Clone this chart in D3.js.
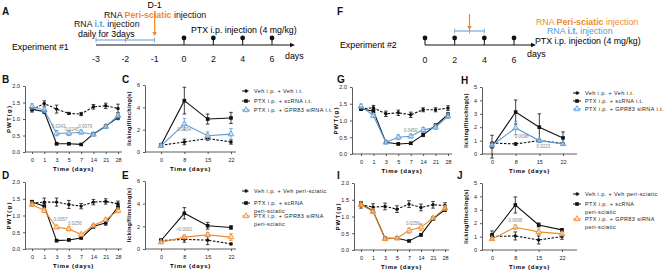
<!DOCTYPE html>
<html>
<head>
<meta charset="utf-8">
<script src="https://cdn.jsdelivr.net/npm/d3@7"></script>
<style>
  body { margin: 0; background: #fff; }
  svg { font-family: "Liberation Sans", Arial, sans-serif; }
</style>
</head>
<body>
<svg id="svg" width="669" height="273"></svg>
<script>
// colours
let blue = "#5b9bd5"
let orange = "#ef8a2c"
let black = "#111"
let grey = "#888"
let tfs = 8.8 // timeline font size

// timeline days
let days1 = ["-3", "-2", "-1", "0", "2", "4", "6"]
let itDays1 = ["-3", "-2", "-1"]
let ptxDays1 = ["0", "2", "4", "6"]
let days2 = ["0", "2", "4", "6"]
let itDays2 = ["2", "4"]
let ptxDays2 = ["0", "2", "4", "6"]

// time categories
let pwtDays = ["0", "1", "3", "5", "7", "14", "21", "28"]
let lickDays = ["0", "8", "15", "22"]
let pwtTicks = [0, 0.5, 1, 1.5, 2]
let lick6Ticks = [0, 2, 4, 6]
let lick5Ticks = [0, 1, 2, 3, 4, 5]

// panel B
let vehB = [1.28, 1.47, 1.30, 1.17, 1.15, 1.37, 1.40, 1.32]
let vehBErr = [0.07, 0.08, 0.12, 0.03, 0.05, 0.07, 0.08, 0.13]
let scB = [1.30, 1.22, 0.25, 0.25, 0.23, 0.55, 0.78, 1.05]
let scBErr = [0.05, 0.05, 0.03, 0.03, 0.02, 0.04, 0.05, 0.07]
let siB = [1.38, 1.27, 0.57, 0.57, 0.60, 0.53, 0.77, 1.10]
let siBErr = [0.08, 0.07, 0.08, 0.07, 0.06, 0.04, 0.05, 0.07]
// panel C
let vehC = [0.6, 0.9, 1.2, 0.9]
let vehCErr = [0.1, 0.25, 0.15, 0.2]
let scC = [0.6, 4.6, 2.95, 3.05]
let scCErr = [0.1, 1.2, 0.45, 0.5]
let siC = [0.55, 2.5, 1.45, 1.6]
let siCErr = [0.1, 0.5, 0.35, 0.5]
// panel D
let vehD = [1.37, 1.40, 1.40, 1.33, 1.28, 1.40, 1.42, 1.35]
let vehDErr = [0.08, 0.12, 0.12, 0.12, 0.08, 0.08, 0.08, 0.08]
let scD = [1.40, 1.28, 0.25, 0.27, 0.33, 0.67, 0.78, 1.25]
let scDErr = [0.05, 0.08, 0.03, 0.03, 0.03, 0.05, 0.07, 0.07]
let siD = [1.33, 1.15, 0.65, 0.60, 0.43, 0.70, 0.87, 1.15]
let siDErr = [0.06, 0.06, 0.04, 0.06, 0.04, 0.05, 0.04, 0.07]
// panel E
let vehE = [0.75, 0.85, 0.78, 0.45]
let vehEErr = [0.1, 0.25, 0.4, 0.08]
let scE = [0.75, 3.15, 2.05, 1.9]
let scEErr = [0.15, 0.5, 0.3, 0.15]
let siE = [0.6, 1.05, 1.25, 1.05]
let siEErr = [0.1, 0.15, 0.2, 0.3]
// panel G
let vehG = [1.35, 1.38, 1.20, 1.23, 1.17, 1.32, 1.32, 1.37]
let vehGErr = [0.05, 0.07, 0.08, 0.08, 0.08, 0.06, 0.06, 0.07]
let scG = [1.35, 1.28, 0.35, 0.30, 0.32, 0.57, 0.85, 1.18]
let scGErr = [0.05, 0.05, 0.03, 0.03, 0.03, 0.05, 0.05, 0.05]
let siG = [1.42, 1.15, 0.35, 0.50, 0.53, 0.72, 0.80, 1.13]
let siGErr = [0.07, 0.06, 0.05, 0.07, 0.05, 0.07, 0.07, 0.07]
// panel H
let vehH = [0.82, 0.75, 1.0, 0.8]
let vehHErr = [0.05, 0.1, 0.1, 0.05]
let scH = [0.55, 3.13, 2.0, 1.2]
let scHErr = [0.85, 0.9, 1.0, 0.45]
let siH = [0.65, 1.94, 1.0, 0.75]
let siHErr = [0.1, 0.5, 0.15, 0.1]
// panel I
let vehI = [1.35, 1.28, 1.30, 1.22, 1.37, 1.27, 1.35, 1.33]
let vehIErr = [0.1, 0.1, 0.1, 0.1, 0.1, 0.1, 0.1, 0.08]
let scI = [1.37, 1.17, 0.35, 0.35, 0.27, 0.45, 0.93, 1.20]
let scIErr = [0.05, 0.05, 0.03, 0.03, 0.02, 0.03, 0.05, 0.05]
let siI = [1.35, 1.15, 0.33, 0.35, 0.58, 0.68, 0.95, 1.25]
let siIErr = [0.05, 0.06, 0.04, 0.03, 0.08, 0.1, 0.05, 0.07]
// panel J
let vehJ = [1.0, 1.05, 0.75, 1.0]
let vehJErr = [0.2, 0.3, 0.3, 0.2]
let scJ = [1.12, 3.36, 1.87, 1.5]
let scJErr = [0.3, 0.6, 0.15, 0.1]
let siJ = [0.82, 1.7, 1.35, 1.2]
let siJErr = [0.1, 0.15, 0.2, 0.15]

// legends
let legendIt = ["Veh i.p. + Veh i.t.", "PTX i.p. + scRNA i.t.", "PTX i.p. + GPR83 siRNA i.t."]
let legendPeri = [["Veh i.p. + Veh peri-sciatic"], ["PTX i.p. + scRNA", "peri-sciatic"], ["PTX i.p. + GPR83 siRNA", "peri-sciatic"]]

let svg = d3.select("#svg")

function letter(txt, x, y) {
  svg.append("text").attr("x", x).attr("y", y).text(txt)
    .attr("font-size", 10).attr("font-weight", "bold").attr("fill", black)
}

// ---------- timelines ----------
function lollipops(x, days, axisY) {
  days.forEach(function (d) {
    svg.append("line").attr("x1", x(d)).attr("x2", x(d)).attr("y1", axisY - 7).attr("y2", axisY)
      .attr("stroke", black).attr("stroke-width", 1)
    svg.append("circle").attr("cx", x(d)).attr("cy", axisY - 7).attr("r", 2.4).attr("fill", black)
  })
}

function axisArrow(x0, x1, y) {
  svg.append("line").attr("x1", x0).attr("x2", x1 - 4).attr("y1", y).attr("y2", y)
    .attr("stroke", black).attr("stroke-width", 1)
  svg.append("path").attr("d", `M${x1},${y} L${x1 - 5},${y - 2.2} L${x1 - 5},${y + 2.2} Z`).attr("fill", black)
}

function tickLabels(x, days, y) {
  svg.append("g").selectAll("text").data(days).join("text")
    .attr("x", d => x(d)).attr("y", y).attr("text-anchor", "middle")
    .attr("font-size", tfs).attr("fill", black).text(d => d)
}

function bracket(x, days, y) {
  let a = x(days[0]), b = x(days[days.length - 1])
  svg.append("line").attr("x1", a).attr("x2", b).attr("y1", y).attr("y2", y)
    .attr("stroke", blue).attr("stroke-width", 1)
  let marks = days.slice()
  if (days.length == 2) marks.push(null)
  marks.forEach(function (d) {
    let xx = d === null ? (a + b) / 2 : x(d)
    svg.append("line").attr("x1", xx).attr("x2", xx).attr("y1", y - 2.5).attr("y2", y + 2.5)
      .attr("stroke", blue).attr("stroke-width", 0.8)
  })
}

function orangeArrow(xx, y0, y1) {
  svg.append("line").attr("x1", xx).attr("x2", xx).attr("y1", y0).attr("y2", y1 - 3)
    .attr("stroke", orange).attr("stroke-width", 1.2)
  svg.append("path").attr("d", `M${xx},${y1} L${xx - 2.3},${y1 - 4} L${xx + 2.3},${y1 - 4} Z`).attr("fill", orange)
}

function mixedText(x, y, col, parts) {
  let t = svg.append("text").attr("x", x).attr("y", y).attr("font-size", tfs).attr("fill", col)
  parts.forEach(function (p) {
    let s = t.append("tspan").text(p[0])
    if (p[1]) s.attr("fill", p[1])
    if (p[2]) s.attr("font-weight", "bold")
  })
}

// experiment 1
letter("A", 2, 15)
let xA = d3.scalePoint().domain(days1).range([96, 272])
svg.append("text").attr("x", 12).attr("y", 50).attr("font-size", tfs).text("Experiment #1")
axisArrow(96, 295, 45)
bracket(xA, itDays1, 40)
lollipops(xA, ptxDays1, 45)
orangeArrow(xA("-1"), 11, 36)
tickLabels(xA, days1, 62)
svg.append("text").attr("x", 285).attr("y", 59).attr("font-size", tfs).text("days")
svg.append("text").attr("x", xA("-1")).attr("y", 8).attr("text-anchor", "middle").attr("font-size", tfs).text("D-1")
mixedText(104, 18, black, [["RNA "], ["Peri-sciatic", orange, true], [" injection"]])
mixedText(74, 27, black, [["RNA "], ["i.t.", blue, true], [" injection"]])
svg.append("text").attr("x", 78).attr("y", 37).attr("font-size", tfs).text("daily for 3days")
svg.append("text").attr("x", 191).attr("y", 33).attr("font-size", tfs).text("PTX i.p. injection (4 mg/kg)")

// experiment 2
letter("F", 337, 15)
let xF = d3.scalePoint().domain(days2).range([425, 514])
svg.append("text").attr("x", 340).attr("y", 48).attr("font-size", tfs).text("Experiment #2")
axisArrow(425, 536, 45)
bracket(xF, itDays2, 31)
lollipops(xF, ptxDays2, 45)
orangeArrow((xF("2") + xF("4")) / 2, 14, 30)
tickLabels(xF, days2, 63)
svg.append("text").attr("x", 527).attr("y", 57).attr("font-size", tfs).text("days")
mixedText(536, 25, orange, [["RNA "], ["Peri-sciatic", null, true], [" injection"]])
mixedText(547, 34, blue, [["RNA "], ["i.t.", null, true], [" injection"]])
svg.append("text").attr("x", 535).attr("y", 44).attr("font-size", tfs).text("PTX i.p. injection (4 mg/kg)")

// ---------- line charts ----------
function marker(g, shape, cx, cy, col) {
  if (shape == "circle") {
    g.append("circle").attr("cx", cx).attr("cy", cy).attr("r", 1.7).attr("fill", col)
  } else if (shape == "square") {
    g.append("rect").attr("x", cx - 1.8).attr("y", cy - 1.8).attr("width", 3.6).attr("height", 3.6).attr("fill", col)
  } else {
    g.append("path").attr("d", d3.symbol(d3.symbolTriangle, 14)())
      .attr("transform", `translate(${cx},${cy})`)
      .attr("fill", "#fff").attr("fill-opacity", 0.5).attr("stroke", col).attr("stroke-width", 0.9)
  }
}

function drawPanel(p) {
  let x = d3.scalePoint().domain(p.cats).range(p.xr)
  let y = d3.scaleLinear().domain([0, p.ymax]).range(p.yr)
  let g = svg.append("g")

  // axes
  let ya = g.append("g").attr("transform", `translate(${p.ax},0)`)
    .call(d3.axisLeft(y).tickValues(p.yticks).tickSize(2).tickSizeOuter(0)
      .tickFormat(p.fmt))
  let xa = g.append("g").attr("transform", `translate(0,${p.yr[0]})`)
    .call(d3.axisBottom(x).tickSize(2).tickSizeOuter(0))
  xa.select(".domain").remove()
  xa.append("line").attr("x1", p.ax).attr("x2", p.x1).attr("stroke", "#333").attr("stroke-width", 0.8)
  ;[ya, xa].forEach(function (a) {
    a.selectAll("path, line").attr("stroke", "#333").attr("stroke-width", 0.8)
    a.selectAll("text").attr("font-size", 5.5).attr("fill", "#222").attr("font-family", "Liberation Sans")
  })
  xa.selectAll(".tick text").attr("dy", "0.9em")

  g.append("text").attr("x", (p.ax + p.x1) / 2).attr("y", p.yr[0] + 19)
    .attr("text-anchor", "middle").attr("font-size", 6).attr("font-weight", "bold")
    .attr("letter-spacing", 0.7).text("Time (days)")
  g.append("text").attr("transform", `translate(${p.ax - 14},${(p.yr[0] + p.yr[1]) / 2}) rotate(-90)`)
    .attr("text-anchor", "middle").attr("font-size", p.ylabSize).attr("font-weight", "bold")
    .attr("letter-spacing", p.ylabSpace).text(p.ylab)

  let series = [
    { v: p.veh, e: p.vehErr, col: black, shape: "circle", dash: "2.5,1.5" },
    { v: p.sc, e: p.scErr, col: black, shape: "square", dash: null },
    { v: p.si, e: p.siErr, col: p.col, shape: "tri", dash: null }
  ]
  let line = d3.line().x((d, i) => x(p.cats[i])).y(d => y(d))
  series.forEach(function (s) {
    g.append("path").datum(s.v).attr("d", line).attr("fill", "none")
      .attr("stroke", s.col).attr("stroke-width", 1.1).attr("stroke-dasharray", s.dash)
    s.v.forEach(function (v, i) {
      let cx = x(p.cats[i])
      g.append("line").attr("x1", cx).attr("x2", cx).attr("y1", y(v - s.e[i])).attr("y2", y(v + s.e[i]))
        .attr("stroke", s.col).attr("stroke-width", 0.8)
      ;[v - s.e[i], v + s.e[i]].forEach(function (c) {
        g.append("line").attr("x1", cx - 1.8).attr("x2", cx + 1.8).attr("y1", y(c)).attr("y2", y(c))
          .attr("stroke", s.col).attr("stroke-width", 0.8)
      })
      marker(g, s.shape, cx, y(v), s.col)
    })
  })

  p.notes.forEach(function (n) {
    g.append("text").attr("x", x(n[0]) + n[1]).attr("y", y(n[2])).attr("text-anchor", "middle")
      .attr("font-size", 4.5).attr("fill", grey).text(n[3])
  })

  if (p.legend) {
    let rows = p.legend
    rows.forEach(function (r, i) {
      let lines = Array.isArray(r) ? r : [r]
      let ly = p.legY[i]
      let s = series[i]
      g.append("line").attr("x1", p.legX - 4).attr("x2", p.legX + 4).attr("y1", ly).attr("y2", ly)
        .attr("stroke", s.col).attr("stroke-width", 1).attr("stroke-dasharray", s.dash)
      marker(g, s.shape, p.legX, ly, s.col)
      lines.forEach(function (t, j) {
        g.append("text").attr("x", p.legX + 8).attr("y", ly + 2 + j * 7.5)
          .attr("font-size", 5.5).attr("letter-spacing", 0.4).attr("fill", "#222").text(t)
      })
    })
  }
}

let pwtFmt = d3.format(".1f")
let intFmt = d3.format("d")

drawPanel({ cats: pwtDays, xr: [32, 118], ax: 25, x1: 122, yr: [152, 86], ymax: 2, yticks: pwtTicks, fmt: pwtFmt,
  ylab: "PWT(g)", ylabSize: 6, ylabSpace: 1.2, col: blue,
  veh: vehB, vehErr: vehBErr, sc: scB, scErr: scBErr, si: siB, siErr: siBErr,
  notes: [["3", 2, 0.72, "0.0343"], ["5", 3, 0.64, "0.0245"], ["7", 4, 0.72, "0.0079"]] })
drawPanel({ cats: lickDays, xr: [161, 231], ax: 145, x1: 236, yr: [152, 85], ymax: 6, yticks: lick6Ticks, fmt: intFmt,
  ylab: "licking/flinching(s)", ylabSize: 5.5, ylabSpace: 0.3, col: blue,
  veh: vehC, vehErr: vehCErr, sc: scC, scErr: scCErr, si: siC, siErr: siCErr,
  notes: [["8", 0, 1.85, "0.0254"]],
  legend: legendIt, legX: 246, legY: [91, 101, 110] })
drawPanel({ cats: pwtDays, xr: [32, 118], ax: 25, x1: 122, yr: [249, 182], ymax: 2, yticks: pwtTicks, fmt: pwtFmt,
  ylab: "PWT(g)", ylabSize: 6, ylabSpace: 1.2, col: orange,
  veh: vehD, vehErr: vehDErr, sc: scD, scErr: scDErr, si: siD, siErr: siDErr,
  notes: [["3", 4, 0.85, "0.0057"], ["5", 6, 0.73, "0.0256"]] })
drawPanel({ cats: lickDays, xr: [161, 231], ax: 145, x1: 236, yr: [249, 181], ymax: 6, yticks: lick6Ticks, fmt: intFmt,
  ylab: "licking/flinching(s)", ylabSize: 5.5, ylabSpace: 0.3, col: orange,
  veh: vehE, vehErr: vehEErr, sc: scE, scErr: scEErr, si: siE, siErr: siEErr,
  notes: [["8", 0, 1.6, "<0.0001"]],
  legend: legendPeri, legX: 246, legY: [191, 203, 216] })
drawPanel({ cats: pwtDays, xr: [361, 448], ax: 352, x1: 452, yr: [154, 87], ymax: 2, yticks: pwtTicks, fmt: pwtFmt,
  ylab: "PWT(g)", ylabSize: 6, ylabSpace: 1.2, col: blue,
  veh: vehG, vehErr: vehGErr, sc: scG, scErr: scGErr, si: siG, siErr: siGErr,
  notes: [["7", 0, 0.65, "0.0450"]] })
drawPanel({ cats: lickDays, xr: [492, 563], ax: 482, x1: 577, yr: [154, 87], ymax: 5, yticks: lick5Ticks, fmt: intFmt,
  ylab: "licking/flinching(s)", ylabSize: 5.5, ylabSpace: 0.3, col: blue,
  veh: vehH, vehErr: vehHErr, sc: scH, scErr: scHErr, si: siH, siErr: siHErr,
  notes: [["8", 6, 1.2, "0.0098"], ["15", 4, 0.45, "0.0223"]],
  legend: legendIt, legX: 577, legY: [93, 101, 109] })
drawPanel({ cats: pwtDays, xr: [361, 445], ax: 354, x1: 449, yr: [250, 183], ymax: 2, yticks: pwtTicks, fmt: pwtFmt,
  ylab: "PWT(g)", ylabSize: 6, ylabSpace: 1.2, col: orange,
  veh: vehI, vehErr: vehIErr, sc: scI, scErr: scIErr, si: siI, siErr: siIErr,
  notes: [["7", 4, 0.75, "0.0256"]] })
drawPanel({ cats: lickDays, xr: [492, 562], ax: 482, x1: 577, yr: [250, 183], ymax: 5, yticks: lick5Ticks, fmt: intFmt,
  ylab: "licking/flinching(s)", ylabSize: 5.5, ylabSpace: 0.3, col: orange,
  veh: vehJ, vehErr: vehJErr, sc: scJ, scErr: scJErr, si: siJ, siErr: siJErr,
  notes: [["8", 0, 2.1, "0.0098"]],
  legend: legendPeri, legX: 577, legY: [194, 204, 219] })

letter("B", 2, 83)
letter("C", 122, 83)
letter("D", 2, 179)
letter("E", 122, 179)
letter("G", 337, 83)
letter("H", 461, 84)
letter("I", 337, 179)
letter("J", 457, 179)
</script>
</body>
</html>
